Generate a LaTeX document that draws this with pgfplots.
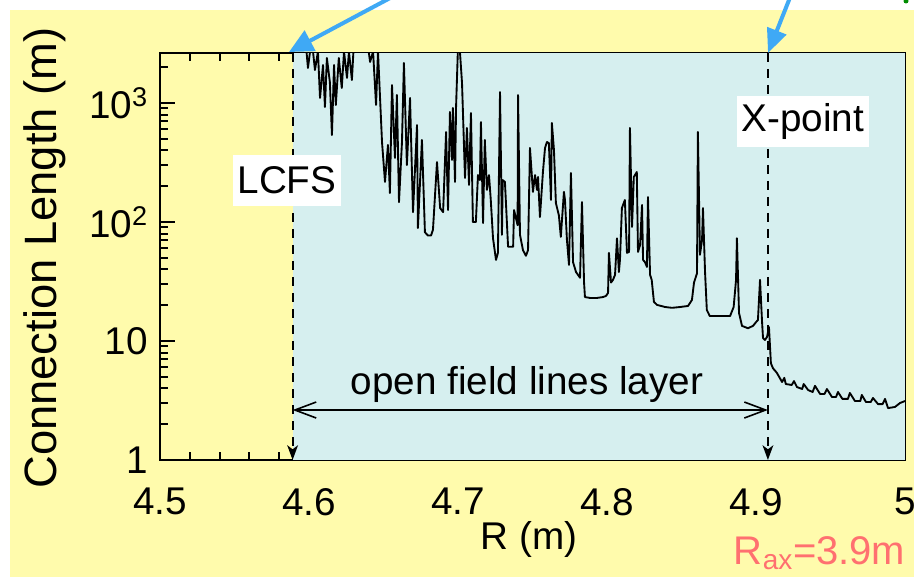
\documentclass[border=0pt]{standalone}
\usepackage{pgfplots}
\pgfplotsset{compat=1.18}
\usepackage{fontspec}
\setmainfont{Liberation Sans}
\usetikzlibrary{arrows.meta}
\definecolor{bgyellow}{RGB}{255,251,172}
\definecolor{solcyan}{RGB}{214,239,239}
\definecolor{arrowblue}{RGB}{63,169,245}
\definecolor{salmon}{RGB}{255,112,112}
\pgfplotstableread{
R L
4.593 3000
4.598 3000
4.5993 1968
4.6007 2700
4.6027 2700
4.604 1893
4.606 2700
4.6074 1102
4.6094 2086
4.6107 925
4.612 2390
4.614 1500
4.6154 538
4.6168 2086
4.618 962
4.620 2390
4.622 1336
4.6235 2700
4.6255 1622
4.6268 2700
4.6288 1560
4.630 3000
4.6396 3000
4.641 2212
4.643 2700
4.645 962
4.6463 2700
4.649 470
4.651 217
4.653 444
4.6543 175
4.6557 1417
4.6577 345
4.659 1167
4.6604 147
4.6624 470
4.6637 2168
4.6657 301
4.6678 1102
4.6698 121
4.6725 653
4.6731 89
4.6758 489
4.6778 82
4.6798 77
4.6819 77
4.6832 86
4.6859 319
4.688 131
4.690 121
4.692 570
4.6933 126
4.6946 840
4.696 332
4.6966 908
4.698 217
4.6987 925
4.700 3000
4.7013 2700
4.7027 1472
4.7047 234
4.706 617
4.7074 205
4.7087 824
4.710 100
4.712 100
4.7134 248
4.7147 225
4.7154 692
4.7168 98
4.718 489
4.7194 186
4.7208 248
4.722 153
4.7235 73
4.7255 48
4.7268 55
4.7282 1237
4.7295 78
4.730 225
4.7315 217
4.7336 62
4.737 62
4.7376 126
4.740 94
4.7403 1167
4.7416 78
4.7436 58
4.7456 52
4.747 58
4.7483 419
4.7503 179
4.7517 248
4.753 186
4.7537 239
4.755 110
4.757 263
4.7584 419
4.7597 470
4.761 460
4.7624 153
4.763 679
4.7644 403
4.7657 144
4.7677 114
4.769 75
4.7711 179
4.7718 153
4.7731 71
4.7745 43.5
4.7758 258
4.7772 46
4.7792 38
4.7805 36
4.7819 34
4.7832 147
4.7846 31
4.7852 23.4
4.7886 23
4.7933 23
4.7973 23.4
4.7993 23.9
4.8007 25.3
4.8013 55
4.8027 31
4.804 32.6
4.8054 36
4.8067 73
4.808 38
4.8087 48
4.810 131
4.812 153
4.8134 55
4.8148 56
4.8154 617
4.8168 91
4.818 239
4.820 263
4.8208 56
4.8222 64
4.8235 139
4.8242 48
4.8255 46
4.8268 41.9
4.8275 162
4.8289 36
4.830 32.6
4.8315 21.3
4.8336 20.1
4.839 19.3
4.8436 19
4.849 19.3
4.8544 19.7
4.857 22.1
4.8584 31
4.8604 37
4.861 570
4.8624 53
4.8638 71
4.8644 131
4.8658 38
4.867 18.2
4.869 16.2
4.8758 16.2
4.8826 16.2
4.885 19.3
4.8866 32.6
4.8872 73
4.8886 17.2
4.8906 13.4
4.8946 12.8
4.898 13.4
4.900 14.4
4.9013 15.0
4.9027 32.6
4.904 15
4.9047 10.6
4.906 10.2
4.9074 10.8
4.9087 13.1
4.910 6.5
4.9114 5.9
4.914 5.4
4.9175 4.52
4.919 4.9
4.920 4.35
4.924 4.27
4.9255 4.6
4.9275 4.1
4.931 3.95
4.932 4.35
4.935 3.87
4.938 3.73
4.9396 4.2
4.943 3.59
4.946 3.59
4.9476 3.95
4.951 3.38
4.9537 3.38
4.955 3.73
4.958 3.26
4.9617 3.26
4.963 3.66
4.9664 3.13
4.970 3.13
4.971 3.52
4.9738 3.07
4.977 3.07
4.9785 3.32
4.9819 2.95
4.985 2.95
4.9866 3.26
4.9886 2.73
4.9933 2.79
4.9966 3.01
5.0 3.13
}\conntable
\begin{document}
\begin{tikzpicture}[x=0.75pt,y=0.75pt]
\path[use as bounding box] (0,0) rectangle (914,578);
\fill[white] (0,0) rectangle (914,578);
\fill[bgyellow] (10,1) rectangle (914,568);
\begin{axis}[
  at={(120pt,88.5pt)}, anchor=south west, scale only axis,
  width=558.75pt, height=305.25pt,
  xmin=4.5, xmax=5, ymode=log, ymin=1, ymax=2630,
  axis line style={line width=1.9pt},
  every tick/.style={black, line width=1.5pt},
  tick align=inside,
  xtick={4.5,4.6,4.7,4.8,4.9,5},
  xticklabels={4.5,4.6,4.7,4.8,4.9,5},
  minor xtick={4.52,4.54,4.56,4.58,4.62,4.64,4.66,4.68,4.72,4.74,4.76,4.78,4.82,4.84,4.86,4.88,4.92,4.94,4.96,4.98},
  ytick={1,10,100,1000},
  minor ytick={2,3,4,5,6,7,8,9,20,30,40,50,60,70,80,90,200,300,400,500,600,700,800,900,2000},
  yticklabels={1,10,10\textsuperscript{2},10\textsuperscript{3}},
  major tick length=11pt, minor tick length=6pt,
  ticklabel style={font=\fontsize{29}{29}\selectfont},
  xticklabel style={inner sep=0pt, yshift=-21pt},
  yticklabel style={inner sep=0pt, xshift=-9pt},
]
\fill[solcyan] (axis cs:4.589,1) rectangle (axis cs:5,2630);
\addplot[black, line width=1.4pt, line join=round, mark=none] table[x=R, y=L] {\conntable};
\draw[black, line width=1.5pt, dash pattern=on 7pt off 5pt, -{Stealth[length=11pt,width=8pt,inset=3pt]}] (axis cs:4.589,2630) -- (axis cs:4.589,1);
\draw[black, line width=1.5pt, dash pattern=on 7pt off 5pt, -{Stealth[length=11pt,width=8pt,inset=3pt]}] (axis cs:4.908,2630) -- (axis cs:4.908,1);
\draw[black, line width=1.2pt, {Straight Barb[length=16pt,width=12pt]}-{Straight Barb[length=16pt,width=12pt]}] (axis cs:4.589,2.63) -- (axis cs:4.908,2.63);
\end{axis}
% labels
\node[rotate=90, font=\fontsize{34}{34}\selectfont] at (45,320) {Connection Length (m)};
\node[font=\fontsize{29}{29}\selectfont] at (529,39) {R (m)};
\node[font=\fontsize{29}{29}\selectfont] at (527,193) {open field lines layer};
\fill[white] (233,372) rectangle (341,423);
\node[font=\fontsize{29}{29}\selectfont] at (287,397.5) {LCFS};
\fill[white] (737,431) rectangle (869,482);
\node[font=\fontsize{29}{29}\selectfont] at (803,456.5) {X-point};
\node[anchor=east, text=salmon, font=\fontsize{30}{30}\selectfont] at (910,25) {R\textsubscript{ax}=3.9m};
% blue arrows
\draw[arrowblue, line width=3pt, -{Triangle[length=18pt,width=17pt]}] (392,581) -- (289,526);
\draw[arrowblue, line width=3pt, -{Triangle[length=18pt,width=15pt]}] (791,583) -- (768,525);
\fill[green!55!black] (906,577) circle (2.5);
\end{tikzpicture}
\end{document}
